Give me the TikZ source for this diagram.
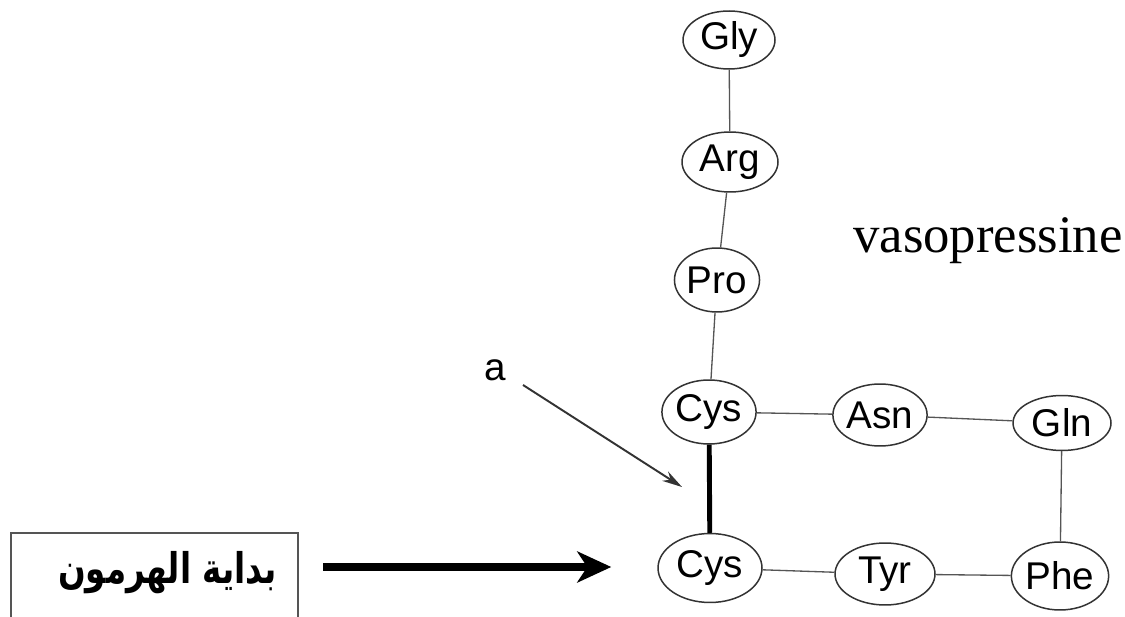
\documentclass[tikz,border=0pt]{standalone}
\usepackage{fontspec}
\setmainfont{Liberation Sans}
\newfontfamily\serifvaso{Liberation Serif}
\newfontfamily\arabicfont[Script=Arabic]{DejaVu Sans}
\TeXXeTstate=1
\usetikzlibrary{shapes.geometric,arrows.meta}
\definecolor{edgegray}{HTML}{555555}
\definecolor{rimgray}{HTML}{333333}
\tikzset{
  amino/.style={ellipse, draw=rimgray, line width=0.85pt, inner sep=0pt,
    font=\fontsize{22}{24}\selectfont},
  bond/.style={draw=edgegray, line width=0.75pt},
  ssbond/.style={draw=black, line width=2.8pt},
}
\begin{document}
\begin{tikzpicture}[x=0.02cm, y=-0.02cm]
\useasboundingbox (0,0) rectangle (1125,617);
\clip (0,0) rectangle (1125,617);
\fill[white] (0,0) rectangle (1125,617);

\node[amino, minimum width=1.84cm, minimum height=1.16cm] (gly) at (729,40) {Gly};
\node[amino, minimum width=1.92cm, minimum height=1.2cm] (arg) at (730,162) {Arg};
\node[amino, minimum width=1.7cm, minimum height=1.28cm] (pro) at (717,280) {Pro};
\node[amino, minimum width=1.84cm, minimum height=1.28cm] (cyst) at (709,412) {Cys};
\node[amino, minimum width=1.8cm, minimum height=1.24cm] (asn) at (880,415) {Asn};
\node[amino, minimum width=1.96cm, minimum height=1.1cm] (gln) at (1062,423) {Gln};
\node[amino, minimum width=2.08cm, minimum height=1.38cm] (cysb) at (710,568) {Cys};
\node[amino, minimum width=2.0cm, minimum height=1.24cm] (tyr) at (885,574) {Tyr};
\node[amino, minimum width=1.9cm, minimum height=1.36cm] (phe) at (1060,576) {Phe};

\draw[bond] (gly) -- (arg);
\draw[bond] (arg) -- (pro);
\draw[bond] (pro) -- (cyst);
\draw[bond] (cyst) -- (asn);
\draw[bond] (asn) -- (gln);
\draw[bond] (gln) -- (phe);
\draw[bond] (cysb) -- (tyr);
\draw[bond] (tyr) -- (phe);
\draw[ssbond] (cyst) -- (cysb);

\node[anchor=base west, inner sep=0pt, font=\serifvaso\fontsize{30}{32}\selectfont] (vaso) at (853,253) {vasopressine};

\node[anchor=center, inner sep=0pt, font=\fontsize{22}{24}\selectfont] (alabel) at (495,370) {a};
\coordinate (astart) at (523,385);
\coordinate (aend) at (682,487);
\draw[line width=1.1pt, draw=rimgray, -{Stealth[length=0.4cm,width=0.22cm]}] (astart) -- (aend);

\draw[draw=edgegray, line width=1.2pt] (11,533) rectangle (298,650);
\node[anchor=east, inner sep=0pt, font=\arabicfont\bfseries\fontsize{18.5}{20}\selectfont] (hormone) at (277,573) {\scalebox{1}[1.3]{\beginR بداية الهرمون\endR}};

\coordinate (bstart) at (323,567);
\draw[line width=4.2pt, -{Stealth[length=0.68cm,width=0.62cm,inset=0.2cm]}, shorten >=0.92cm] (bstart) -- (cysb.west |- bstart);
\end{tikzpicture}
\end{document}
